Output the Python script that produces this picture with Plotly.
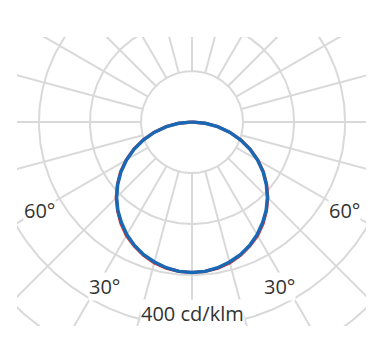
import numpy as np
import plotly.graph_objects as go

# Luminous intensity distribution (cd/klm) vs gamma angle (deg from nadir)
gamma = [0, 5, 10, 15, 20, 25, 30, 35, 40, 45, 50, 55, 60, 65, 70, 75, 80, 85, 90]
i_c0_c180 = [295, 294, 291, 286, 278, 268, 257, 243, 227, 210, 191, 171, 149, 126, 102, 77, 52, 27, 3]
i_c90_c270 = [295, 294, 290, 284, 277, 267, 255, 241, 226, 209, 190, 170, 148, 125, 101, 76, 51, 26, 3]

grid_radii = [100, 200, 300, 400, 500, 600]
spoke_angles = list(range(0, 360, 15))
angle_labels = ["60°", "30°"]
scale_label = "400 cd/klm"

GRID = "#d9d9d9"
TXT = "#333333"


def curve_xy(vals):
    g = np.radians(np.array(gamma, dtype=float))
    v = np.array(vals, dtype=float)
    xl = -(v * np.sin(g))[::-1]
    yl = -(v * np.cos(g))[::-1]
    xr = v * np.sin(g)
    yr = -v * np.cos(g)
    x = np.concatenate([xl, xr[1:], xl[:1]])
    y = np.concatenate([yl, yr[1:], yl[:1]])
    return x, y


fig = go.Figure()

# grid circles
t = np.radians(np.arange(0, 361, 1))
cx, cy = [], []
for r in grid_radii:
    cx += list(r * np.cos(t)) + [None]
    cy += list(r * np.sin(t)) + [None]
fig.add_trace(go.Scatter(x=cx, y=cy, mode="lines", line=dict(color=GRID, width=2),
                         hoverinfo="skip", showlegend=False))

# spokes from inner circle outward
sx, sy = [], []
for a in spoke_angles:
    ar = np.radians(a)
    sx += [grid_radii[0] * np.cos(ar), 2000 * np.cos(ar), None]
    sy += [grid_radii[0] * np.sin(ar), 2000 * np.sin(ar), None]
fig.add_trace(go.Scatter(x=sx, y=sy, mode="lines", line=dict(color=GRID, width=2),
                         hoverinfo="skip", showlegend=False))

x0, y0 = curve_xy(i_c0_c180)
fig.add_trace(go.Scatter(x=x0, y=y0, mode="lines", line=dict(color="#e0302a", width=3.2),
                         name="C0-C180", showlegend=False))
x1, y1 = curve_xy(i_c90_c270)
fig.add_trace(go.Scatter(x=x1, y=y1, mode="lines", line=dict(color="#1968b5", width=3.4),
                         name="C90-C270", showlegend=False))

font = dict(family="Open Sans, Lato, sans-serif", size=20, color=TXT)
ann = []
for lab, ang, rad in [(angle_labels[0], 60, 345), (angle_labels[1], 28, 366)]:
    a = np.radians(ang)
    for s in (-1, 1):
        ann.append(dict(x=s * rad * np.sin(a), y=-rad * np.cos(a), text=lab, showarrow=False,
                        font=font, bgcolor="white", borderpad=0, xref="x", yref="y"))
ann.append(dict(x=0, y=-375, text=scale_label, showarrow=False, font=font,
                bgcolor="white", borderpad=0, xref="x", yref="y"))

fig.update_layout(
    width=378, height=353,
    margin=dict(l=9, r=20, t=29, b=35),
    paper_bgcolor="white", plot_bgcolor="white",
    xaxis=dict(range=[-343, 341], visible=False, fixedrange=True),
    yaxis=dict(range=[-400, 167], visible=False, fixedrange=True),
    annotations=ann,
)

fig.write_html("out.html")
